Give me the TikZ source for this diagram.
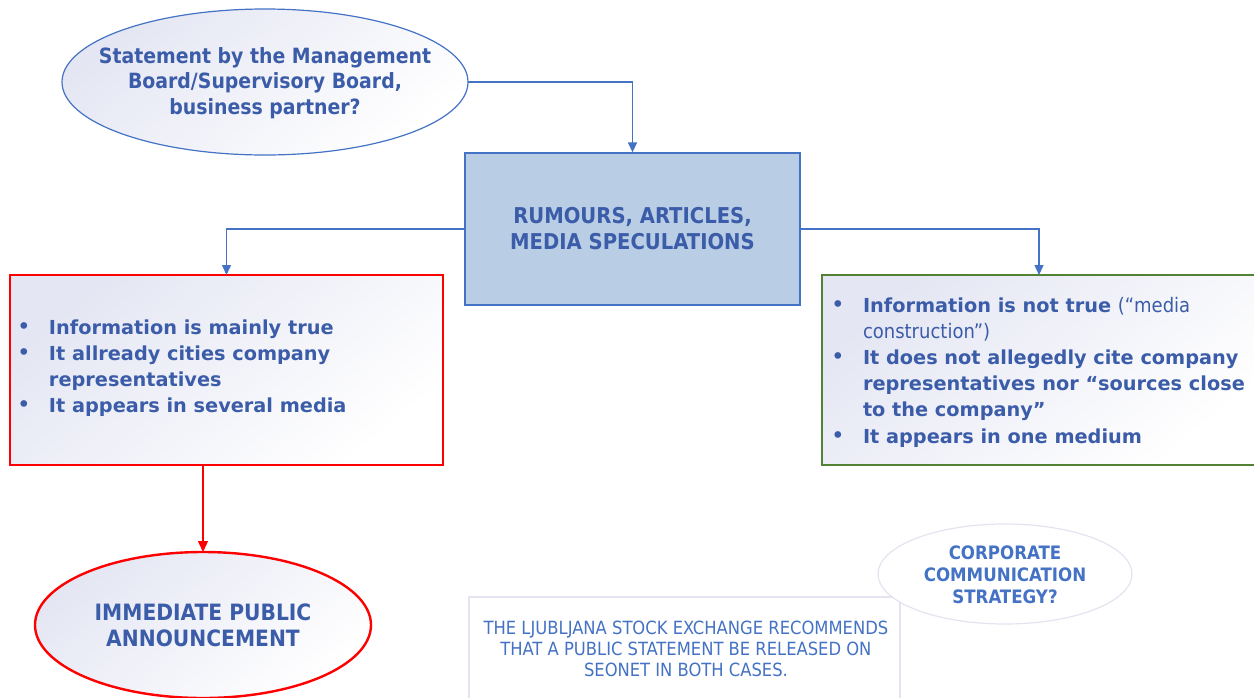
\documentclass[tikz,border=0pt]{standalone}
\usepackage{fontspec}
\setmainfont{DejaVu Sans}
\newfontfamily\cond{DejaVu Sans Condensed}
\usetikzlibrary{shapes.geometric,arrows.meta}
\definecolor{bl}{HTML}{4472C4}
\definecolor{tx}{HTML}{3B5CA8}
\definecolor{lav}{HTML}{E4E6F3}
\definecolor{boxfill}{HTML}{B9CDE5}
\definecolor{grn}{HTML}{548235}
\definecolor{pale}{HTML}{E4E4F0}
\definecolor{rd}{HTML}{FF0000}
\newcommand{\bul}{\makebox[27pt][l]{\hspace*{-5pt}\mdseries\fontsize{23}{26}\selectfont •}}
\newcommand{\ind}{\hspace*{27pt}}
\begin{document}
\begin{tikzpicture}[x=1pt,y=-1pt,
  conn/.style={draw=bl, line width=1.4pt, -{Triangle[length=10pt,width=9pt]}},
  rconn/.style={draw=rd, line width=1.4pt, -{Triangle[length=11pt,width=10pt]}},
  grad/.style={shade, top color=lav, bottom color=white, shading angle=40},
  headfont/.style={font=\cond\bfseries\fontsize{21}{25.5}\selectfont},
  listfont/.style={font=\bfseries\fontsize{19.3}{26.2}\selectfont},
  plain/.style={inner sep=0pt, outer sep=0pt}]
\useasboundingbox (0,0) rectangle (1254,697);
\clip (0,0) rectangle (1254,697);

% top ellipse
\node[ellipse, draw=bl, line width=1.2pt, grad, minimum width=406pt, minimum height=146pt, plain] (stmt) at (265,82) {};
\node[plain, align=center, text=tx, headfont] (stmttxt) at (265,83)
  {Statement by the Management\\Board/Supervisory Board,\\business partner?};

% central box
\node[rectangle, draw=bl, fill=boxfill, line width=1.3pt, minimum width=335pt, minimum height=152pt,
  inner sep=0pt, align=center, text=tx, font=\cond\bfseries\fontsize{21.8}{26}\selectfont] (rum) at (632.5,229)
  {RUMOURS, ARTICLES,\\MEDIA SPECULATIONS};

% red box
\node[rectangle, draw=rd, line width=2.4pt, grad, minimum width=433pt, minimum height=190pt, plain] (tru) at (226.5,370) {};
\node[plain, anchor=west, align=left, text=tx, listfont] (trutxt) at (22,368)
  {\bul Information is mainly true\\
   \bul It allready cities company\\
   \ind representatives\\
   \bul It appears in several media};

% green box
\node[rectangle, draw=grn, line width=2.4pt, grad, minimum width=434pt, minimum height=190pt, plain] (fal) at (1039,370) {};
\node[plain, anchor=west, align=left, text=tx, listfont] (faltxt) at (836,372)
  {\bul Information is not true {\cond\mdseries\fontsize{20}{26}\selectfont (“media}\\
   \ind{\cond\mdseries\fontsize{20}{26}\selectfont construction”)}\\
   \bul It does not allegedly cite company\\
   \ind representatives nor “sources close\\
   \ind to the company”\\
   \bul It appears in one medium};

% red ellipse
\node[ellipse, draw=rd, line width=2.4pt, grad, minimum width=336pt, minimum height=146pt, plain] (imm) at (203,625) {};
\node[plain, align=center, text=tx, font=\cond\bfseries\fontsize{22.5}{26}\selectfont] (immtxt) at (203,625)
  {IMMEDIATE PUBLIC\\ANNOUNCEMENT};

% bottom box
\node[rectangle, draw=pale, line width=1.5pt, fill=white, minimum width=431pt, minimum height=130pt,
  anchor=north west, plain] (lse) at (469,597) {};
\node[plain, align=center, text=bl, font=\cond\fontsize{18.2}{21}\selectfont] (lsetxt) at (686,649)
  {THE LJUBLJANA STOCK EXCHANGE RECOMMENDS\\THAT A PUBLIC STATEMENT BE RELEASED ON\\SEONET IN BOTH CASES.};

% small ellipse
\node[ellipse, draw=pale, line width=1.2pt, fill=white, minimum width=254pt, minimum height=100pt, plain] (corp) at (1005,574) {};
\node[plain, align=center, text=bl, font=\cond\bfseries\fontsize{18.5}{22}\selectfont] (corptxt) at (1005,575)
  {CORPORATE\\COMMUNICATION\\STRATEGY?};

% connectors
\draw[conn] (stmt.east) -| (rum.north);
\draw[conn] (rum.west) -| (tru.north);
\draw[conn] (rum.east) -| (fal.north);
\draw[rconn] (tru.south -| imm.north) -- (imm.north);
\end{tikzpicture}
\end{document}
